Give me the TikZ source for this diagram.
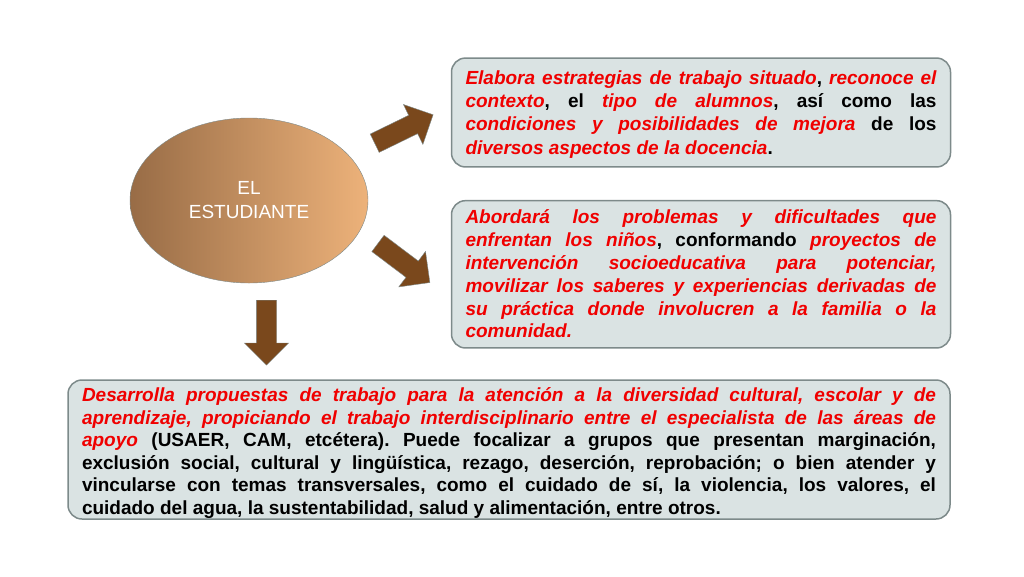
\documentclass[tikz,border=0pt]{standalone}
\usepackage{fontspec}
\setmainfont{Liberation Sans}
\usetikzlibrary{shapes.geometric,shapes.arrows}
\definecolor{rojo}{RGB}{240,0,0}
\definecolor{cajafondo}{RGB}{218,227,227}
\definecolor{cajaborde}{RGB}{125,138,138}
\definecolor{cafe}{RGB}{122,72,28}
\definecolor{cafeclaro}{RGB}{237,178,122}
\definecolor{cafeoscuro}{RGB}{152,108,70}
\newcommand{\rojo}[1]{\textcolor{rojo}{\itshape #1}}
% struts that fix the first and the last baseline inside a box
\newcommand{\arriba}[1]{\rule{0pt}{#1}}
\newcommand{\abajo}[1]{\rule[-#1]{0pt}{#1}}
\frenchspacing
\begin{document}
\begin{tikzpicture}[x=1pt,y=-1pt,
    caja/.style={draw=cajaborde, line width=1.5pt, fill=cajafondo,
      rounded corners=14pt, align=justify, inner xsep=14pt, inner ysep=0pt,
      font=\fontsize{19pt}{#1}\selectfont\bfseries},
    flecha/.style={single arrow, draw=cajaborde, fill=cafe,
      inner xsep=0pt, inner ysep=10pt, text height=0pt, text depth=0pt,
      single arrow head extend=12pt, minimum height=65pt, anchor=tail}]
  \useasboundingbox (0,0) rectangle (1024,576);
  \node[ellipse, draw=cajaborde, left color=cafeoscuro, right color=cafeclaro,
    minimum width=238pt, minimum height=165pt, inner sep=0pt,
    text=white, align=center, font=\fontsize{19pt}{24pt}\selectfont]
    (estudiante) at (249,200.5) {EL\\ESTUDIANTE};
  \node[caja=23.3pt, text width=471pt] (situado) at (701,112.5)
    {\arriba{26.3pt}\rojo{Elabora estrategias de trabajo situado}, \rojo{reconoce el}\linebreak
     \rojo{contexto}, el \rojo{tipo de alumnos}, así como las\linebreak
     \rojo{condiciones y posibilidades de mejora} de los\linebreak
     \rojo{diversos aspectos de la docencia}.\abajo{12.7pt}};
  \node[caja=22.8pt, text width=471pt] (problemas) at (701,274.3)
    {\arriba{23.3pt}\rojo{Abordará los problemas y dificultades que}\linebreak
     \rojo{enfrentan los niños}, conformando \rojo{proyectos de}\linebreak
     \rojo{intervención socioeducativa para potenciar,}\linebreak
     \rojo{movilizar los saberes y experiencias derivadas de}\linebreak
     \rojo{su práctica donde involucren a la familia o la}\linebreak
     \rojo{comunidad.}\abajo{10pt}};
  \node[caja=22.6pt, text width=854pt] (diversidad) at (509,449.5)
    {\arriba{21.5pt}\rojo{Desarrolla propuestas de trabajo para la atención a la diversidad cultural, escolar y de}\linebreak
     \rojo{aprendizaje, propiciando el trabajo interdisciplinario entre el especialista de las áreas de}\linebreak
     \rojo{apoyo} (USAER, CAM, etcétera). Puede focalizar a grupos que presentan marginación,\linebreak
     exclusión social, cultural y lingüística, rezago, deserción, reprobación; o bien atender y\linebreak
     vincularse con temas transversales, como el cuidado de sí, la violencia, los valores, el\linebreak
     cuidado del agua, la sustentabilidad, salud y alimentación, entre otros.\abajo{4.5pt}};
  \node[flecha, rotate=26] (haciasituado) at (374.5,143.3) {};
  \node[flecha, rotate=-37] (haciaproblemas) at (377.8,243.3) {};
  \node[flecha, rotate=-90] (haciadiversidad) at (266.5,300) {};
\end{tikzpicture}
\end{document}
